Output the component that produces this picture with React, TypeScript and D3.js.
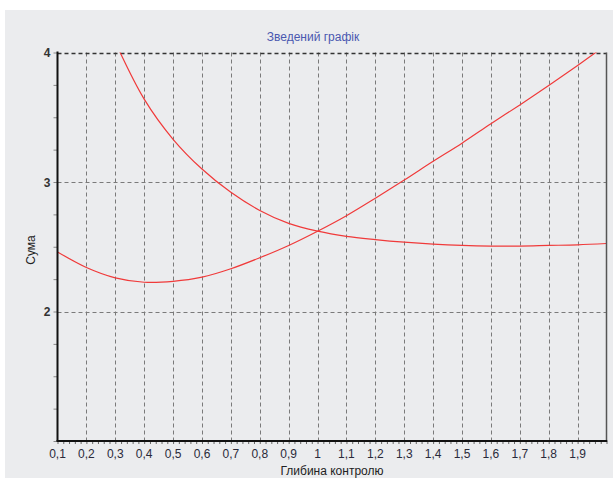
import { useEffect, useRef } from "react";
import * as d3 from "d3";

// depth of control (x) and the two summary curves
const depthA = [0.1, 0.2, 0.3, 0.4, 0.5, 0.6, 0.7, 0.8, 0.9, 1.0, 1.1, 1.2, 1.3, 1.4, 1.5, 1.6, 1.7, 1.8, 1.9, 2.0];
const sumA = [2.46, 2.34, 2.26, 2.226, 2.233, 2.265, 2.33, 2.415, 2.51, 2.62, 2.74, 2.875, 3.015, 3.16, 3.3, 3.45, 3.595, 3.745, 3.9, 4.06];

const depthB = [0.3, 0.4, 0.5, 0.6, 0.7, 0.8, 0.9, 1.0, 1.1, 1.2, 1.3, 1.4, 1.5, 1.6, 1.7, 1.8, 1.9, 2.0];
const sumB = [4.08, 3.64, 3.33, 3.1, 2.92, 2.78, 2.68, 2.62, 2.58, 2.555, 2.535, 2.52, 2.51, 2.505, 2.505, 2.51, 2.515, 2.525];

const xTicks = [0.1, 0.2, 0.3, 0.4, 0.5, 0.6, 0.7, 0.8, 0.9, 1, 1.1, 1.2, 1.3, 1.4, 1.5, 1.6, 1.7, 1.8, 1.9];
const yTicks = [2, 3, 4];

const title = "Зведений графік";
const xTitle = "Глибина контролю";
const yTitle = "Сума";

function Chart() {
  const svgRef = useRef<SVGSVGElement>(null);

  useEffect(() => {
    const svg = d3.select(svgRef.current);
    svg.selectAll("*").remove();

    const left = 57.5, right = 606.5, top = 52.5, bottom = 441;
    const font = "'Liberation Sans', Arial, sans-serif";

    const x = d3.scaleLinear().domain([0.1, 2.0]).range([left, right]);
    const y = d3.scaleLinear().domain([1, 4]).range([bottom, top]);

    svg.append("rect")
      .attr("x", 5).attr("y", 10)
      .attr("width", 608).attr("height", 468)
      .attr("fill", "#ebecee");

    svg.append("defs").append("clipPath").attr("id", "plot")
      .append("rect")
      .attr("x", left).attr("y", top)
      .attr("width", right - left).attr("height", bottom - top);

    // grid
    const grid = svg.append("g")
      .attr("stroke", "#7a7a7a")
      .attr("stroke-width", 1)
      .attr("stroke-dasharray", "4,3");
    grid.selectAll(".vx")
      .data(xTicks.slice(1))
      .join("line")
      .attr("x1", d => Math.round(x(d)) + 0.5).attr("x2", d => Math.round(x(d)) + 0.5)
      .attr("y1", top).attr("y2", bottom);
    grid.selectAll(".hy")
      .data(yTicks)
      .join("line")
      .attr("x1", left).attr("x2", right)
      .attr("y1", d => Math.round(y(d)) + 0.5).attr("y2", d => Math.round(y(d)) + 0.5)
      .attr("stroke", d => d === 4 ? "#333" : "#7a7a7a")
      .attr("stroke-width", d => d === 4 ? 1.6 : 1);

    // curves
    const plot = svg.append("g").attr("clip-path", "url(#plot)");
    const series: [number[], number[]][] = [[depthA, sumA], [depthB, sumB]];
    plot.selectAll("path")
      .data(series)
      .join("path")
      .attr("fill", "none")
      .attr("stroke", "#f03a3a")
      .attr("stroke-width", 1.2)
      .attr("d", ([xs, ys]) =>
        d3.line<number>()
          .x(i => x(xs[i]))
          .y(i => y(ys[i]))
          .curve(d3.curveCatmullRom.alpha(0.5))(d3.range(xs.length))
      );

    // right border
    svg.append("line")
      .attr("x1", right).attr("x2", right)
      .attr("y1", top).attr("y2", bottom)
      .attr("stroke", "#555").attr("stroke-width", 1.5);

    // x axis
    const xAxis = d3.axisBottom(x)
      .tickValues(d3.range(0.1, 2.0001, 0.02))
      .tickSize(3)
      .tickFormat(() => "");
    const gx = svg.append("g")
      .attr("transform", `translate(0, ${bottom})`)
      .call(xAxis);
    gx.select(".domain").remove();
    gx.selectAll("line").attr("stroke", "#666");
    svg.append("line")
      .attr("x1", left - 1).attr("x2", right + 0.75)
      .attr("y1", bottom).attr("y2", bottom)
      .attr("stroke", "#111").attr("stroke-width", 2);

    svg.append("g")
      .selectAll("text")
      .data(xTicks)
      .join("text")
      .attr("x", d => x(d))
      .attr("y", bottom + 17)
      .attr("text-anchor", "middle")
      .attr("font-family", font)
      .attr("font-size", 12)
      .attr("fill", "#2a2a3a")
      .text(d => d3.format(".1~f")(d).replace(".", ","));

    // y axis
    const yAxis = d3.axisLeft(y)
      .tickValues(d3.range(1, 4.001, 0.25))
      .tickSize(4)
      .tickFormat(() => "");
    const gy = svg.append("g")
      .attr("transform", `translate(${left}, 0)`)
      .call(yAxis);
    gy.select(".domain").remove();
    gy.selectAll("line").attr("stroke", "#888");
    svg.append("line")
      .attr("x1", left).attr("x2", left)
      .attr("y1", top - 1).attr("y2", bottom + 1)
      .attr("stroke", "#111").attr("stroke-width", 2);

    svg.append("g")
      .selectAll("text")
      .data(yTicks)
      .join("text")
      .attr("x", left - 7)
      .attr("y", d => y(d) + 4.5)
      .attr("text-anchor", "end")
      .attr("font-family", font)
      .attr("font-size", 12)
      .attr("font-weight", "bold")
      .attr("fill", "#333")
      .text(d => d);

    // titles
    svg.append("text")
      .attr("x", 313).attr("y", 41)
      .attr("text-anchor", "middle")
      .attr("font-family", font)
      .attr("font-size", 12)
      .attr("fill", "#4a58b0")
      .text(title);

    svg.append("text")
      .attr("x", (left + right) / 2).attr("y", 475)
      .attr("text-anchor", "middle")
      .attr("font-family", font)
      .attr("font-size", 12)
      .attr("fill", "#222")
      .text(xTitle);

    svg.append("text")
      .attr("transform", `translate(35, 250) rotate(-90)`)
      .attr("text-anchor", "middle")
      .attr("font-family", font)
      .attr("font-size", 12)
      .attr("fill", "#222")
      .text(yTitle);
  }, []);

  return <svg ref={svgRef} width={613} height={478} style={{ display: "block" }} />;
}

export default function App() {
  return (
    <div style={{ position: "absolute", left: 0, top: 0, background: "#fff" }}>
      <Chart />
    </div>
  );
}
